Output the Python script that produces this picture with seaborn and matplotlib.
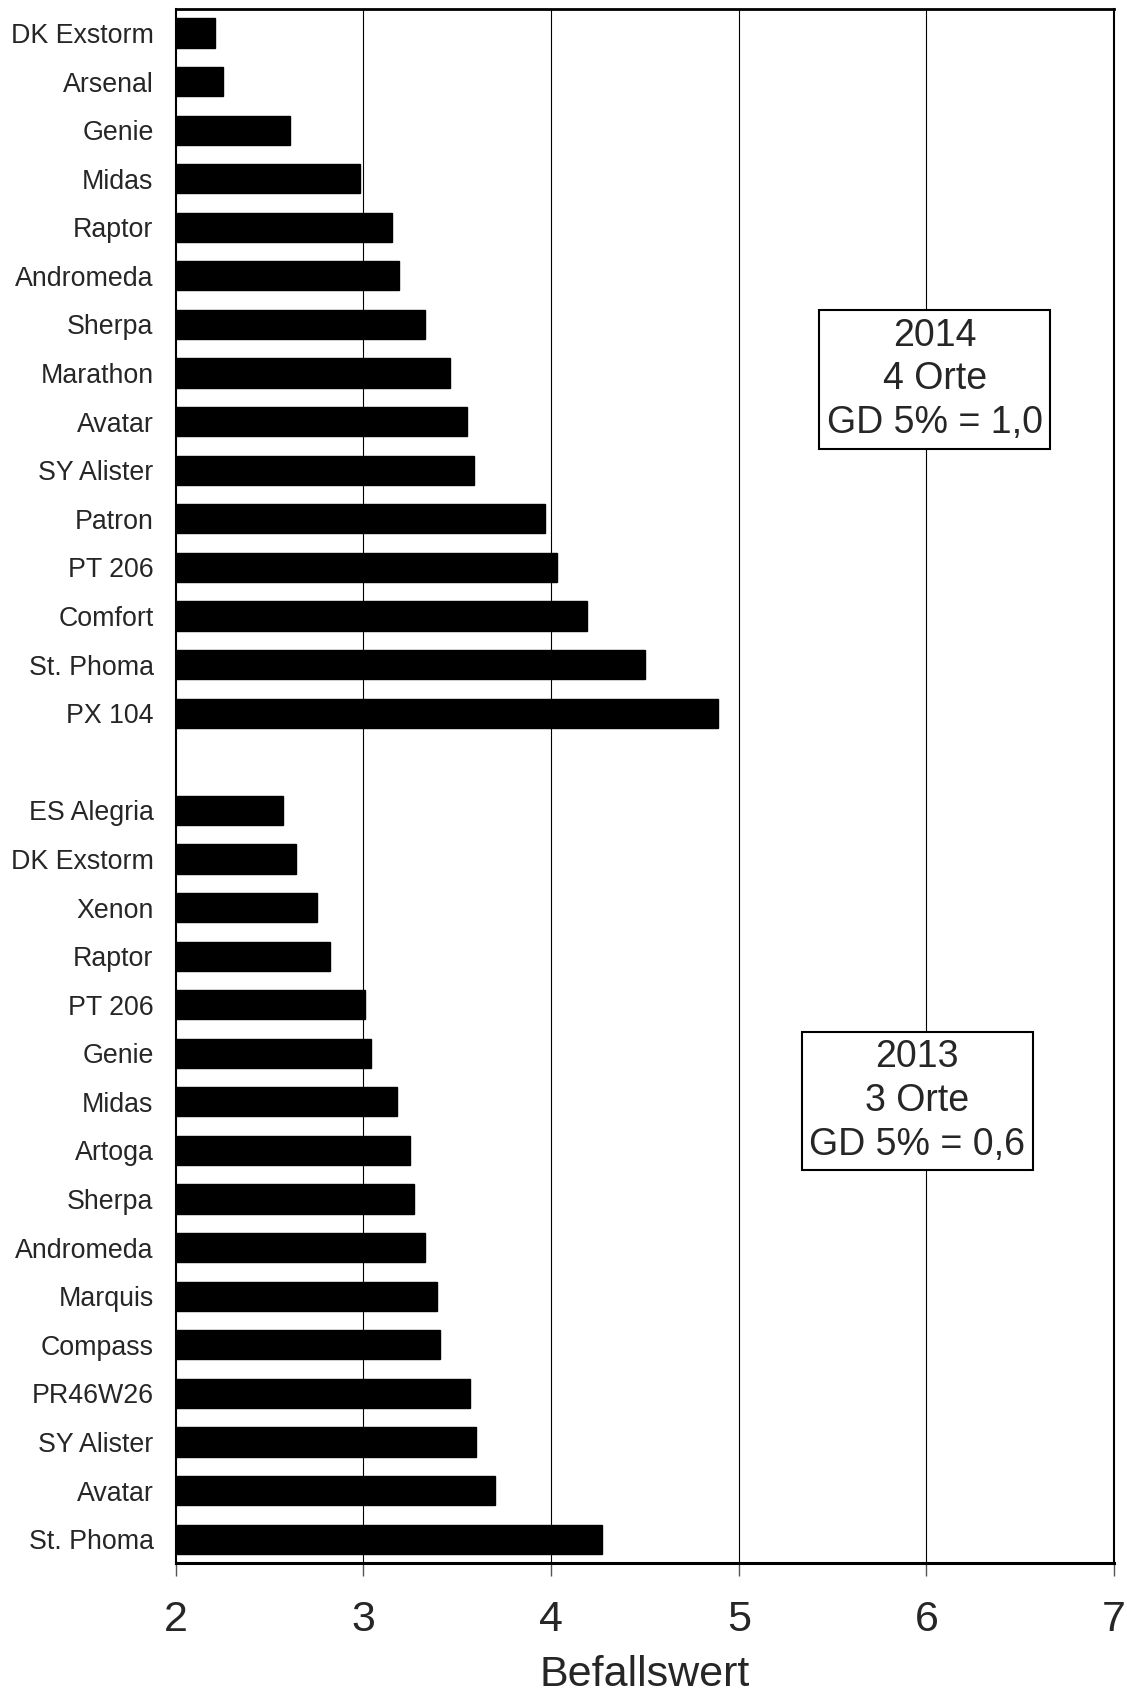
import matplotlib
matplotlib.use("Agg")
import matplotlib.pyplot as plt
import seaborn as sns
import pandas as pd

sorten_2014 = ["DK Exstorm", "Arsenal", "Genie", "Midas", "Raptor", "Andromeda", "Sherpa",
               "Marathon", "Avatar", "SY Alister", "Patron", "PT 206", "Comfort", "St. Phoma", "PX 104"]
werte_2014 = [2.21, 2.25, 2.61, 2.98, 3.15, 3.19, 3.33, 3.46, 3.55, 3.59, 3.97, 4.03, 4.19, 4.50, 4.89]

sorten_2013 = ["ES Alegria", "DK Exstorm", "Xenon", "Raptor", "PT 206", "Genie", "Midas", "Artoga",
               "Sherpa", "Andromeda", "Marquis", "Compass", "PR46W26", "SY Alister", "Avatar", "St. Phoma"]
werte_2013 = [2.57, 2.64, 2.75, 2.82, 3.01, 3.04, 3.18, 3.25, 3.27, 3.33, 3.39, 3.41, 3.57, 3.60, 3.70, 4.27]

x_ticks = [2, 3, 4, 5, 6, 7]
x_label = "Befallswert"
box_2014 = "2014\n4 Orte\nGD 5% = 1,0"
box_2013 = "2013\n3 Orte\nGD 5% = 0,6"

slots = [f"2014|{s}" for s in sorten_2014] + ["gap"] + [f"2013|{s}" for s in sorten_2013]
labels = sorten_2014 + [""] + sorten_2013
df = pd.DataFrame({
    "slot": [f"2014|{s}" for s in sorten_2014] + [f"2013|{s}" for s in sorten_2013],
    "wert": werte_2014 + werte_2013,
})

sns.set_style("white")
plt.rcParams["font.family"] = ["Liberation Sans", "DejaVu Sans"]

fig = plt.figure(figsize=(11.27, 16.95), dpi=100)
ax = fig.add_axes([0.156, 0.0776, 0.8325, 0.9173])

sns.barplot(data=df, x="wert", y="slot", order=slots, orient="h", color="black",
            edgecolor="black", width=0.6, saturation=1, ax=ax, zorder=3)

ax.set_xlim(2, 7)
ax.set_ylim(len(slots) - 0.5, -0.5)
ax.set_xticks(x_ticks)
ax.set_xticklabels([str(t) for t in x_ticks], fontsize=31)
ax.set_yticks(range(len(slots)))
ax.set_yticklabels(labels, fontsize=19.3)
ax.tick_params(axis="y", length=0, pad=16)
ax.tick_params(axis="x", direction="out", length=9, width=1, color="#555555", pad=17, bottom=True)
ax.set_xlabel(x_label, fontsize=31, labelpad=11)
ax.set_ylabel("")

for v in [3, 4, 5, 6]:
    ax.axvline(v, color="black", lw=0.8, zorder=1)

for side in ["left", "right", "top"]:
    ax.spines[side].set_linewidth(1.5)
    ax.spines[side].set_color("black")
ax.spines["bottom"].set_linewidth(2.2)
ax.spines["bottom"].set_color("black")
ax.spines["top"].set_linewidth(2.0)

bbox = dict(boxstyle="square,pad=0.2", facecolor="white", edgecolor="black", lw=1.5)
ax.text(6.045, 0.7615, box_2014, transform=ax.get_xaxis_transform(), ha="center", va="center",
        fontsize=27, linespacing=1.28, bbox=bbox, zorder=5)
ax.text(5.95, 0.2975, box_2013, transform=ax.get_xaxis_transform(), ha="center", va="center",
        fontsize=27, linespacing=1.28, bbox=bbox, zorder=5)

fig.savefig("out.png", dpi=100)
